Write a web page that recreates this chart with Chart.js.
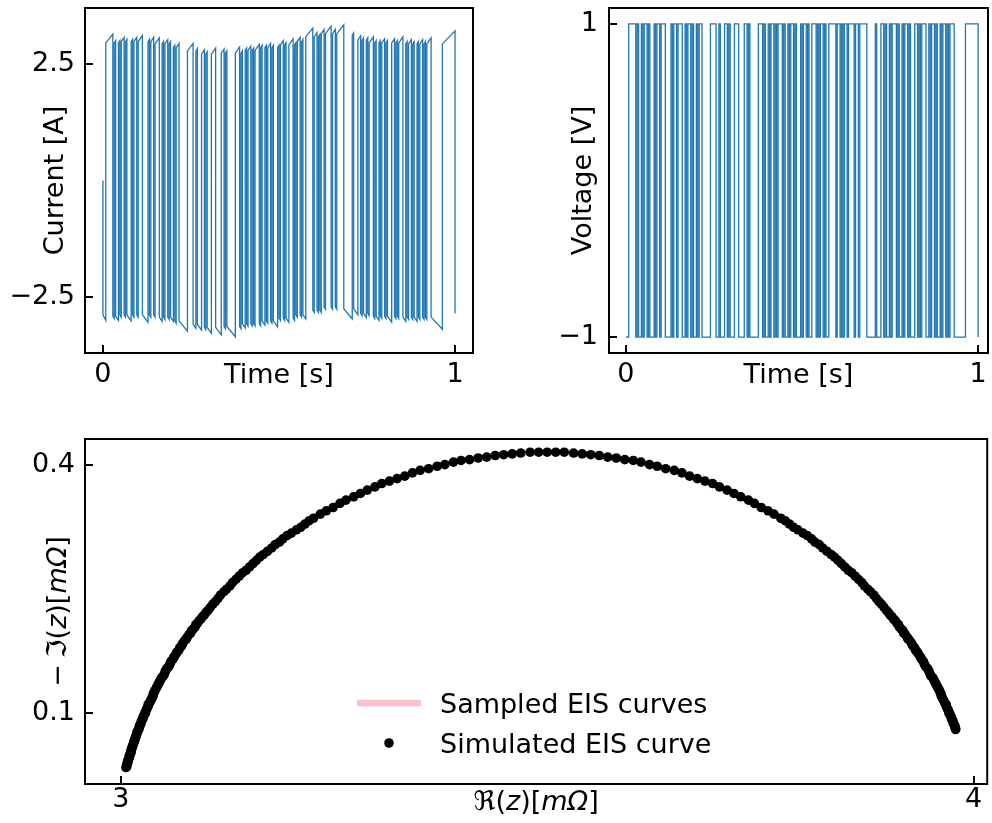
<!DOCTYPE html>
<html><head><meta charset="utf-8">
<script src="https://cdn.jsdelivr.net/npm/chart.js@4.4.1/dist/chart.umd.min.js"></script>
<style>
html,body{margin:0;padding:0;background:#fff;width:992px;height:823px;overflow:hidden}
canvas{position:absolute}
</style></head><body>
<canvas id="c1" width="496" height="400" style="left:0;top:0"></canvas>
<canvas id="c2" width="496" height="400" style="left:496px;top:0"></canvas>
<canvas id="c3" width="992" height="403" style="left:0;top:420px"></canvas>
<script>
// ---------------- DATA ----------------
// switching instants of the excitation (s) : 135 boundaries -> 134 intervals
const switchTimes = [
0,0.008,0.028,0.032,0.036,0.044,0.048,0.052,0.060,0.064,
0.068,0.080,0.084,0.088,0.096,0.100,0.112,0.128,0.132,0.136,
0.144,0.148,0.160,0.168,0.172,0.176,0.184,0.188,0.192,0.200,
0.204,0.208,0.216,0.240,0.256,0.264,0.268,0.280,0.288,0.292,
0.296,0.308,0.320,0.336,0.344,0.348,0.352,0.376,0.388,0.392,
0.396,0.404,0.408,0.412,0.420,0.424,0.428,0.432,0.444,0.448,
0.452,0.460,0.464,0.468,0.476,0.480,0.484,0.496,0.500,0.504,
0.512,0.516,0.520,0.528,0.540,0.544,0.548,0.552,0.560,0.564,
0.568,0.576,0.596,0.600,0.608,0.612,0.616,0.620,0.628,0.632,
0.648,0.652,0.660,0.664,0.684,0.708,0.712,0.724,0.732,0.736,
0.740,0.748,0.752,0.756,0.768,0.772,0.776,0.784,0.788,0.792,
0.800,0.804,0.808,0.820,0.828,0.832,0.836,0.840,0.852,0.860,
0.864,0.868,0.876,0.880,0.884,0.892,0.896,0.900,0.908,0.912,
0.916,0.920,0.932,0.964,1.000];
// voltage level held during each interval (V) : 134
const voltageLevels = [
-1,1,-1,1,-1,1,-1,1,-1,1,
-1,1,-1,1,-1,1,-1,1,-1,1,
-1,1,-1,1,-1,1,-1,1,-1,1,
-1,1,-1,1,-1,1,-1,1,-1,1,
-1,1,-1,1,-1,1,-1,1,-1,1,
-1,1,-1,1,-1,1,-1,1,-1,1,
-1,1,-1,1,-1,1,-1,1,-1,1,
-1,1,-1,1,-1,1,-1,1,-1,1,
-1,1,-1,1,-1,1,-1,1,-1,1,
-1,1,-1,1,-1,1,-1,1,-1,1,
-1,1,-1,1,-1,1,-1,1,-1,1,
-1,1,-1,1,-1,1,-1,1,-1,1,
-1,1,-1,1,-1,1,-1,1,-1,1,
-1,1,-1,1];
const voltageFinal = -1;
// current at start / end of each interval (A) : 134 each
const currentInitial = 0.0;
const currentStart = [
-2.88,2.95,-2.91,2.95,-2.91,2.95,-2.88,2.98,-2.88,2.98,
-2.88,2.98,-2.88,2.98,-2.88,2.98,-2.88,2.98,-2.88,2.98,
-2.88,2.93,-2.93,2.93,-2.93,2.93,-2.93,2.93,-2.93,2.85,
-3.01,2.85,-3.01,2.78,-3.08,2.78,-3.08,2.71,-3.15,2.71,
-3.15,2.71,-3.15,2.73,-3.13,2.73,-3.13,2.73,-3.13,2.73,
-3.07,2.79,-3.07,2.79,-3.07,2.79,-3.07,2.79,-3.07,2.85,
-3.01,2.85,-3.01,2.85,-3.01,2.85,-3.01,2.85,-2.95,2.91,
-2.95,2.91,-2.95,2.91,-2.95,2.91,-2.88,2.98,-2.88,2.98,
-2.88,3.08,-2.78,3.08,-2.78,3.08,-2.78,3.15,-2.71,3.15,
-2.71,3.15,-2.71,3.15,-2.75,3.11,-2.75,3.01,-2.85,3.01,
-2.85,3.01,-2.85,2.95,-2.91,2.95,-2.91,2.95,-2.91,2.95,
-2.91,2.95,-2.91,2.95,-2.91,2.95,-2.91,2.95,-2.93,2.93,
-2.93,2.93,-2.93,2.93,-2.93,2.93,-2.93,2.93,-2.93,2.93,
-2.93,2.93,-2.93,2.93];
const currentEnd = [
-3.00,3.14,-2.96,3.00,-3.00,3.00,-2.93,3.07,-2.93,3.03,
-3.01,3.03,-2.93,3.07,-2.93,3.11,-3.04,3.03,-2.93,3.07,
-2.93,3.06,-3.02,2.98,-2.98,3.02,-2.98,2.98,-3.02,2.90,
-3.06,2.94,-3.23,2.94,-3.17,2.83,-3.21,2.80,-3.20,2.76,
-3.28,2.84,-3.31,2.82,-3.18,2.78,-3.35,2.86,-3.18,2.78,
-3.16,2.84,-3.12,2.88,-3.12,2.84,-3.12,2.92,-3.12,2.90,
-3.10,2.90,-3.06,2.94,-3.06,2.90,-3.14,2.90,-3.00,3.00,
-3.00,2.96,-3.04,3.04,-3.00,2.96,-2.93,3.07,-2.93,3.03,
-2.97,3.27,-2.83,3.17,-2.83,3.13,-2.83,3.24,-2.76,3.31,
-2.76,3.24,-2.76,3.34,-2.97,3.16,-2.88,3.10,-2.90,3.06,
-2.94,3.06,-2.90,3.08,-2.96,3.00,-3.00,3.00,-2.96,3.04,
-2.96,3.00,-3.04,3.04,-2.96,3.00,-2.96,3.08,-3.02,2.98,
-2.98,3.02,-2.98,2.98,-3.02,2.98,-2.98,3.02,-2.98,2.98,
-2.98,3.06,-3.19,3.21];
const currentFinal = -2.85;

// simulated EIS curve (mOhm), listed from the low-Re end to the high-Re end
const eisRe = [
3.006,3.007,3.007,3.007,3.008,3.008,3.008,3.009,3.009,3.010,
3.010,3.010,3.011,3.011,3.012,3.012,3.012,3.013,3.013,3.014,
3.014,3.015,3.015,3.016,3.016,3.017,3.017,3.018,3.018,3.019,
3.019,3.020,3.021,3.021,3.022,3.022,3.023,3.024,3.024,3.025,
3.026,3.026,3.027,3.028,3.029,3.029,3.030,3.031,3.032,3.032,
3.033,3.034,3.035,3.036,3.037,3.038,3.038,3.039,3.040,3.041,
3.042,3.043,3.044,3.045,3.046,3.047,3.048,3.050,3.051,3.052,
3.053,3.054,3.056,3.057,3.058,3.059,3.061,3.062,3.063,3.065,
3.066,3.068,3.069,3.071,3.072,3.073,3.075,3.077,3.078,3.080,
3.082,3.083,3.085,3.087,3.088,3.090,3.092,3.094,3.096,3.098,
3.100,3.102,3.105,3.108,3.111,3.114,3.117,3.121,3.124,3.128,
3.131,3.135,3.139,3.143,3.147,3.151,3.155,3.159,3.163,3.167,
3.172,3.177,3.181,3.186,3.190,3.195,3.200,3.206,3.211,3.216,
3.221,3.226,3.234,3.241,3.249,3.257,3.264,3.273,3.281,3.289,
3.298,3.306,3.315,3.324,3.333,3.342,3.351,3.361,3.371,3.380,
3.390,3.399,3.409,3.419,3.429,3.439,3.449,3.459,3.469,3.480,
3.490,3.500,3.510,3.520,3.531,3.541,3.551,3.561,3.571,3.581,
3.591,3.601,3.610,3.620,3.629,3.639,3.649,3.658,3.667,3.676,
3.685,3.694,3.702,3.711,3.719,3.727,3.736,3.743,3.751,3.759,
3.766,3.774,3.779,3.784,3.789,3.794,3.800,3.805,3.810,3.814,
3.819,3.823,3.828,3.833,3.837,3.841,3.845,3.849,3.853,3.857,
3.861,3.865,3.869,3.872,3.876,3.879,3.883,3.886,3.889,3.892,
3.895,3.898,3.900,3.902,3.904,3.906,3.908,3.910,3.912,3.913,
3.915,3.917,3.918,3.920,3.922,3.923,3.925,3.927,3.928,3.929,
3.931,3.932,3.934,3.935,3.937,3.938,3.939,3.941,3.942,3.943,
3.944,3.946,3.947,3.948,3.949,3.950,3.952,3.953,3.954,3.955,
3.956,3.957,3.958,3.959,3.960,3.961,3.962,3.962,3.963,3.964,
3.965,3.966,3.967,3.968,3.968,3.969,3.970,3.971,3.971,3.972,
3.973,3.974,3.974,3.975,3.976,3.976,3.977,3.978,3.978,3.979,
3.979];
const eisIm = [
0.034,0.035,0.037,0.038,0.039,0.040,0.042,0.043,0.044,0.046,
0.047,0.048,0.050,0.051,0.052,0.054,0.055,0.057,0.058,0.060,
0.061,0.063,0.064,0.066,0.067,0.069,0.070,0.072,0.073,0.075,
0.077,0.078,0.080,0.081,0.083,0.085,0.086,0.088,0.090,0.092,
0.093,0.095,0.097,0.099,0.100,0.102,0.104,0.106,0.108,0.110,
0.111,0.113,0.115,0.117,0.119,0.121,0.123,0.125,0.127,0.129,
0.131,0.133,0.135,0.137,0.139,0.141,0.143,0.145,0.147,0.150,
0.152,0.154,0.156,0.158,0.160,0.163,0.165,0.167,0.169,0.172,
0.174,0.176,0.179,0.181,0.183,0.185,0.188,0.190,0.192,0.195,
0.197,0.200,0.202,0.204,0.207,0.209,0.212,0.214,0.217,0.219,
0.222,0.224,0.228,0.232,0.235,0.239,0.243,0.247,0.250,0.254,
0.258,0.262,0.266,0.270,0.273,0.277,0.281,0.285,0.289,0.292,
0.296,0.300,0.304,0.307,0.311,0.315,0.318,0.322,0.325,0.329,
0.333,0.336,0.341,0.345,0.349,0.354,0.358,0.362,0.366,0.370,
0.374,0.378,0.381,0.384,0.387,0.391,0.394,0.396,0.399,0.401,
0.404,0.406,0.407,0.409,0.410,0.412,0.413,0.414,0.415,0.416,
0.416,0.416,0.416,0.416,0.415,0.414,0.413,0.412,0.410,0.409,
0.407,0.406,0.404,0.401,0.399,0.396,0.394,0.391,0.387,0.384,
0.381,0.378,0.374,0.370,0.366,0.362,0.358,0.354,0.349,0.345,
0.341,0.336,0.333,0.329,0.325,0.322,0.318,0.315,0.311,0.307,
0.304,0.300,0.296,0.292,0.289,0.285,0.281,0.277,0.273,0.270,
0.266,0.262,0.258,0.254,0.250,0.247,0.243,0.239,0.235,0.232,
0.228,0.224,0.222,0.219,0.217,0.214,0.212,0.209,0.207,0.204,
0.202,0.200,0.197,0.195,0.192,0.190,0.188,0.185,0.183,0.181,
0.179,0.176,0.174,0.172,0.169,0.167,0.165,0.163,0.160,0.158,
0.156,0.154,0.152,0.150,0.147,0.145,0.143,0.141,0.139,0.137,
0.135,0.133,0.131,0.129,0.127,0.125,0.123,0.121,0.119,0.117,
0.115,0.113,0.111,0.110,0.108,0.106,0.104,0.102,0.100,0.099,
0.097,0.095,0.093,0.092,0.090,0.088,0.086,0.085,0.083,0.081,
0.080];

// ticks
const timeTicks = [0, 1];
const timeTickLabels = ['0', '1'];
const currentTicks = [-2.5, 2.5];
const currentTickLabels = ['\u22122.5', '2.5'];
const voltageTicks = [-1, 1];
const voltageTickLabels = ['\u22121', '1'];
const reTicks = [3, 4];
const reTickLabels = ['3', '4'];
const imTicks = [0.1, 0.4];
const imTickLabels = ['0.1', '0.4'];

const legendLabels = ['Sampled EIS curves', 'Simulated EIS curve'];

// ---------------- BUILD ----------------
const BLUE = '#1f77b4';
const PINK = '#ffc0cb';
const FS = 27;
const FONT = 'DejaVu Sans';
const DOT_R = 4.8;
const SIG_W = 1.3;
Chart.defaults.font.family = FONT;

const nRuns = switchTimes.length - 1;
const voltagePoints = [];
for (let k = 0; k < nRuns; k++) {
  voltagePoints.push({x: switchTimes[k], y: voltageLevels[k]});
  voltagePoints.push({x: switchTimes[k + 1], y: voltageLevels[k]});
}
voltagePoints.push({x: switchTimes[nRuns], y: voltageFinal});

const currentPoints = [{x: switchTimes[0], y: currentInitial}];
for (let k = 0; k < nRuns; k++) {
  currentPoints.push({x: switchTimes[k], y: currentStart[k]});
  currentPoints.push({x: switchTimes[k + 1], y: currentEnd[k]});
}
currentPoints.push({x: switchTimes[nRuns], y: currentFinal});

const eisPoints = eisRe.map((v, i) => ({x: v, y: eisIm[i]}));

const framePlugin = {
  id: 'frame',
  afterDatasetsDraw(chart) {
    const {ctx, chartArea: a, scales} = chart;
    ctx.save();
    ctx.strokeStyle = '#000';
    ctx.lineWidth = 2;
    ctx.beginPath();
    scales.x.ticks.forEach(t => {
      const px = Math.round(scales.x.getPixelForValue(t.value));
      ctx.moveTo(px, a.bottom); ctx.lineTo(px, a.bottom - 8);
    });
    scales.y.ticks.forEach(t => {
      const py = Math.round(scales.y.getPixelForValue(t.value));
      ctx.moveTo(a.left, py); ctx.lineTo(a.left + 8, py);
    });
    ctx.stroke();
    ctx.strokeRect(a.left, a.top, a.right - a.left, a.bottom - a.top);
    ctx.restore();
  }
};

function zeroPad(s) { s.paddingLeft = 0; s.paddingRight = 0; s.paddingTop = 0; s.paddingBottom = 0; }

function xScale(min, max, ticks, labels, h, pad, title, titlePad) {
  return {
    type: 'linear', position: 'bottom', min, max,
    afterBuildTicks: s => { s.ticks = ticks.map(v => ({value: v})); },
    ticks: {callback: (v, i) => labels[i], font: {size: FS}, color: '#000', padding: pad, maxRotation: 0, autoSkip: false},
    grid: {display: false, drawTicks: false}, border: {display: false},
    title: title ? {display: true, text: title, color: '#000', font: {size: FS}, padding: {top: 0, bottom: titlePad}} : {display: false},
    afterFit: s => { s.height = h; zeroPad(s); }
  };
}
function yScale(min, max, ticks, labels, w, pad, title, titlePad) {
  return {
    type: 'linear', position: 'left', min, max,
    afterBuildTicks: s => { s.ticks = ticks.map(v => ({value: v})); },
    ticks: {callback: (v, i) => labels[i], font: {size: FS}, color: '#000', padding: pad, autoSkip: false},
    grid: {display: false, drawTicks: false}, border: {display: false},
    title: title ? {display: true, text: title, color: '#000', font: {size: FS}, padding: {top: titlePad, bottom: 0}} : {display: false},
    afterFit: s => { s.width = w; zeroPad(s); }
  };
}

const common = {
  responsive: false, animation: false, devicePixelRatio: 1, events: [],
  plugins: {legend: {display: false}, tooltip: {enabled: false}}
};

new Chart(document.getElementById('c1'), {
  type: 'scatter',
  data: {datasets: [{data: currentPoints, showLine: true, borderColor: BLUE, borderWidth: SIG_W, pointRadius: 0, tension: 0}]},
  options: Object.assign({}, common, {
    layout: {padding: {left: 0, top: 8, right: 23, bottom: 0}},
    scales: {
      x: xScale(-0.051, 1.051, timeTicks, timeTickLabels, 47, 6, 'Time [s]', 8),
      y: yScale(-3.7, 3.7, currentTicks, currentTickLabels, 85, 10, 'Current [A]', 40)
    }
  }),
  plugins: [framePlugin]
});

new Chart(document.getElementById('c2'), {
  type: 'scatter',
  data: {datasets: [{data: voltagePoints, showLine: true, borderColor: BLUE, borderWidth: SIG_W, pointRadius: 0, tension: 0}]},
  options: Object.assign({}, common, {
    layout: {padding: {left: 0, top: 8, right: 4, bottom: 0}},
    scales: {
      x: xScale(-0.048, 1.028, timeTicks, timeTickLabels, 47, 6, 'Time [s]', 8),
      y: yScale(-1.102, 1.102, voltageTicks, voltageTickLabels, 113, 11, 'Voltage [V]', 72)
    }
  }),
  plugins: [framePlugin]
});

function drawSegs(ctx, segs, cx, cy, rot) {
  ctx.save();
  ctx.translate(cx, cy); ctx.rotate(rot);
  ctx.textBaseline = 'alphabetic'; ctx.textAlign = 'left'; ctx.fillStyle = '#000';
  let total = 0;
  segs.forEach(s => { ctx.font = s[1] + ' ' + FS + 'px "' + FONT + '"'; total += ctx.measureText(s[0]).width + (s[2] || 0); });
  let x = -total / 2;
  segs.forEach(s => { ctx.font = s[1] + ' ' + FS + 'px "' + FONT + '"'; ctx.fillText(s[0], x, 0); x += ctx.measureText(s[0]).width + (s[2] || 0); });
  ctx.restore();
}

const eisDecor = {
  id: 'eisDecor',
  afterDraw(chart) {
    const {ctx, chartArea: a} = chart;
    drawSegs(ctx, [['\u211C(', 'normal'], ['z', 'italic'], [')[', 'normal'], ['m\u03A9', 'italic'], [']', 'normal']], (a.left + a.right) / 2, 390, 0);
    drawSegs(ctx, [['\u2212', 'normal', 6], ['\u2111(', 'normal'], ['z', 'italic'], [')[', 'normal'], ['m\u03A9', 'italic'], [']', 'normal']], 65.5, (a.top + a.bottom) / 2, -Math.PI / 2);
    // legend
    ctx.save();
    ctx.strokeStyle = PINK; ctx.lineWidth = 6.5; ctx.lineCap = 'butt';
    ctx.beginPath(); ctx.moveTo(357, 283); ctx.lineTo(421, 283); ctx.stroke();
    ctx.fillStyle = '#000';
    ctx.beginPath(); ctx.arc(389, 323, DOT_R, 0, Math.PI * 2); ctx.fill();
    ctx.font = FS + 'px "' + FONT + '"';
    ctx.textBaseline = 'alphabetic'; ctx.textAlign = 'left';
    ctx.fillText(legendLabels[0], 440, 293);
    ctx.fillText(legendLabels[1], 440, 333);
    ctx.restore();
  }
};

new Chart(document.getElementById('c3'), {
  type: 'scatter',
  data: {datasets: [
    {label: legendLabels[0], data: eisPoints, showLine: true, borderColor: PINK, borderWidth: 6.5, pointRadius: 0, tension: 0, order: 2},
    {label: legendLabels[1], data: eisPoints, showLine: false, pointRadius: DOT_R, pointBackgroundColor: '#000', pointBorderWidth: 0, backgroundColor: '#000', borderColor: '#000', order: 1}
  ]},
  options: Object.assign({}, common, {
    layout: {padding: {left: 0, top: 19, right: 4, bottom: 0}},
    scales: {
      x: xScale(2.958, 4.016, reTicks, reTickLabels, 39, 0, null, 0),
      y: yScale(0.014, 0.432, imTicks, imTickLabels, 85, 10, null, 0)
    }
  }),
  plugins: [framePlugin, eisDecor]
});
</script>
</body></html>
